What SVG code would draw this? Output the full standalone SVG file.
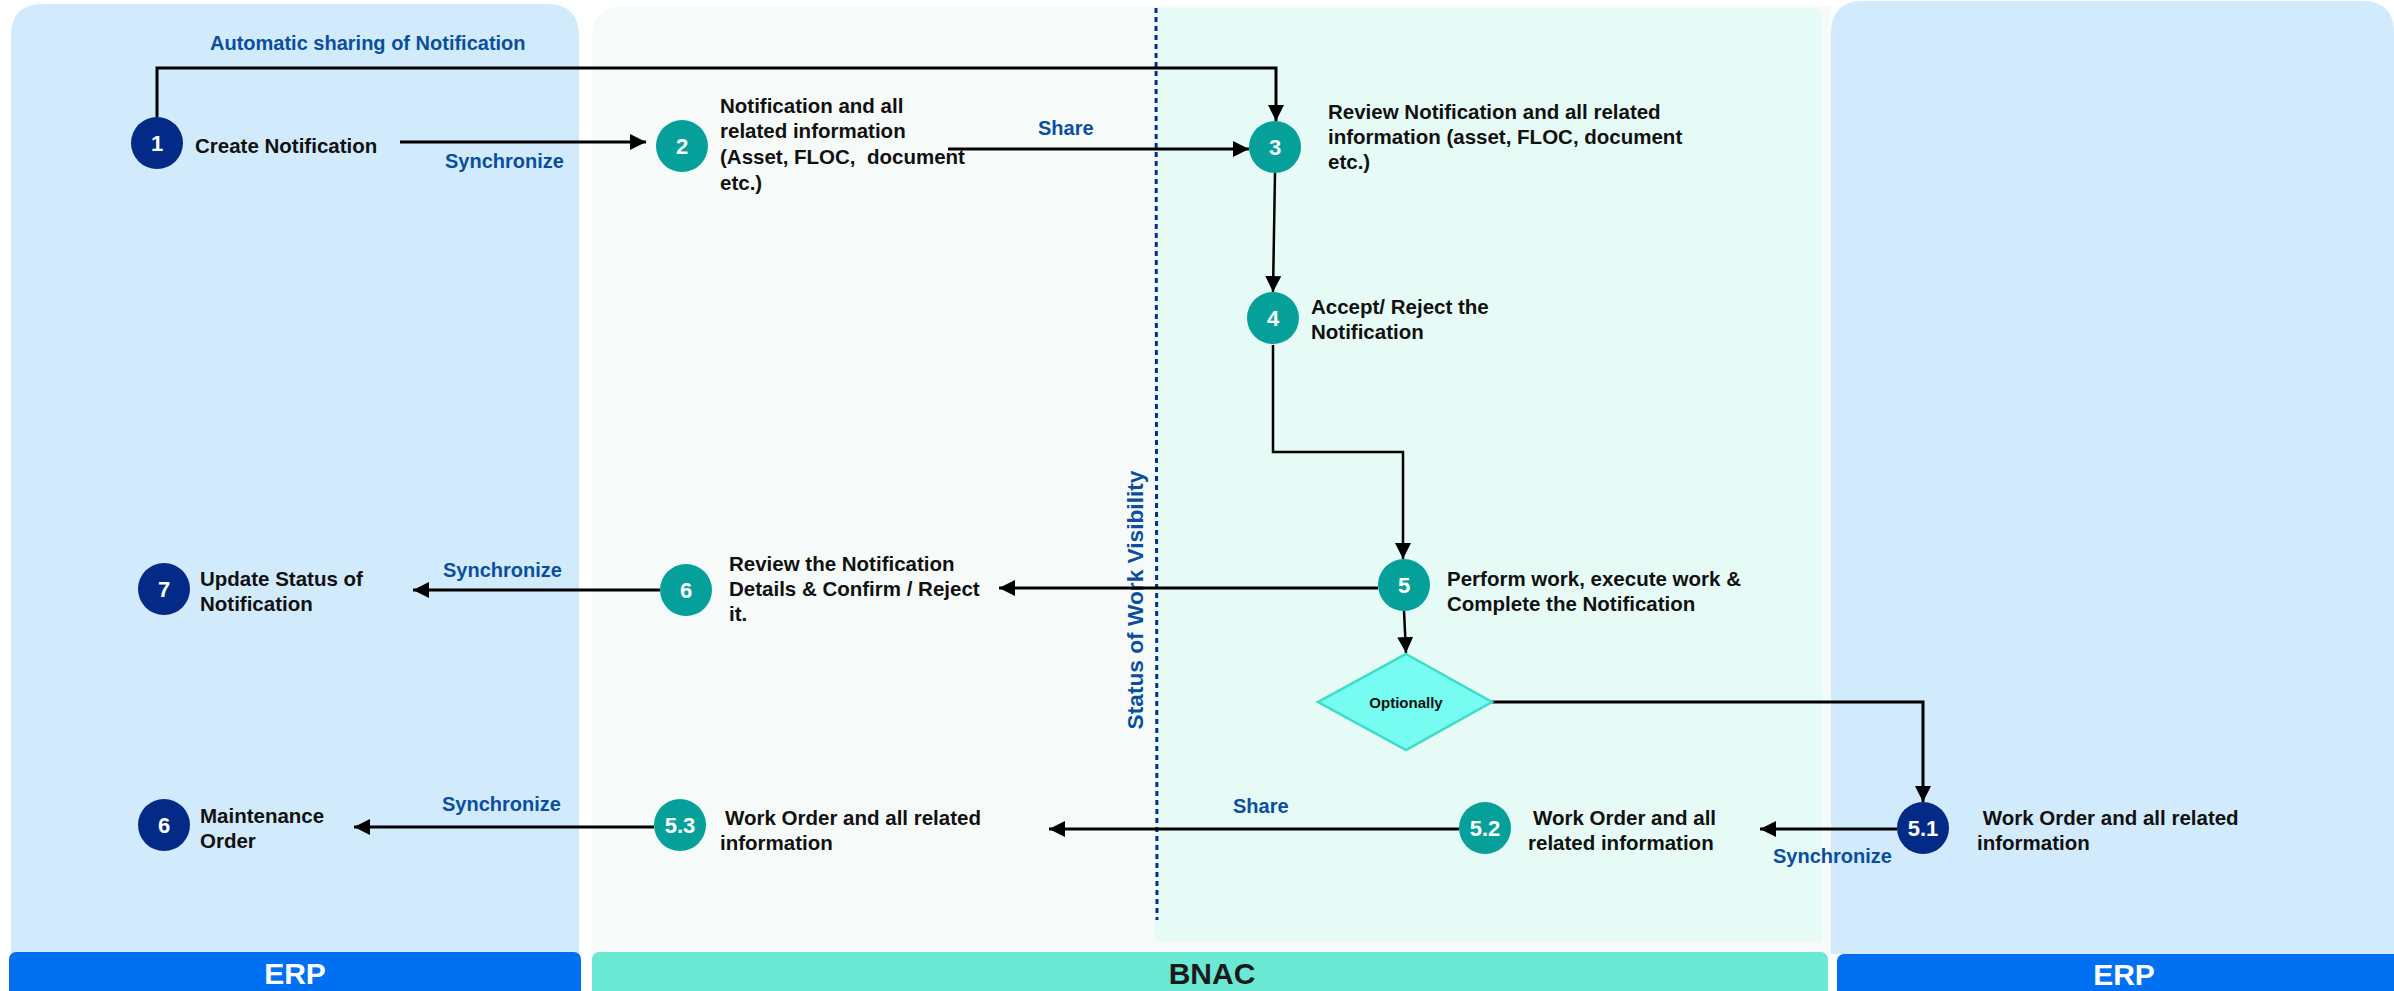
<svg xmlns="http://www.w3.org/2000/svg" width="2394" height="991" viewBox="0 0 2394 991">
<defs>
<style>
.t{font-family:"Liberation Sans",Arial,sans-serif;font-size:20.5px;font-weight:bold;fill:#111}
.lbl{font-family:"Liberation Sans",Arial,sans-serif;font-size:20px;font-weight:bold;fill:#0B4F9C}
.num{font-family:"Liberation Sans",Arial,sans-serif;font-size:22px;font-weight:bold;fill:#fff;text-anchor:middle}
.navy{fill:#022A86}
.teal{fill:#05A09A}
.ln{fill:none;stroke:#000;stroke-width:3;marker-end:url(#ah)}
.ln2{fill:none;stroke:#000;stroke-width:2.5;marker-end:url(#ah)}
.bar{font-family:"Liberation Sans",Arial,sans-serif;font-size:30px;font-weight:bold;text-anchor:middle}
</style>
<marker id="ah" markerUnits="userSpaceOnUse" markerWidth="16" markerHeight="16" refX="16" refY="8" orient="auto">
<path d="M0,0 L16,8 L0,16 z" fill="#000"/>
</marker>
</defs>
<rect width="2394" height="991" fill="#fff"/>
<g id="lanes">
<path d="M11,954 V36 Q11,4 43,4 H547 Q579,4 579,36 V954 Z" fill="#D1EBFD"/>
<path d="M592,954 V38 Q592,6 624,6 H1831 V954 Z" fill="#F6FBFA"/>
<path d="M1155,941 V8 H1810 Q1822,8 1822,20 V941 Z" fill="#E6FBF6"/>
<path d="M1831,954 V33 Q1831,1 1863,1 H2362 Q2394,1 2394,33 V954 Z" fill="#D1EBFD"/>
<line x1="1156" y1="8" x2="1157" y2="920" stroke="#0A2D8C" stroke-width="3" stroke-dasharray="5,4"/>
<text class="lbl" transform="translate(1143,600) rotate(-90)" text-anchor="middle" style="font-size:22.7px">Status of Work Visibility</text>
</g>
<g id="bars">
<rect x="9" y="952" width="572" height="45" rx="7" fill="#0070F2"/>
<text class="bar" x="295" y="984" fill="#fff">ERP</text>
<rect x="592" y="952" width="1236" height="45" rx="7" fill="#6BE8D3"/>
<text class="bar" x="1212" y="984" fill="#1a1a1a">BNAC</text>
<rect x="1837" y="954" width="565" height="45" rx="7" fill="#0070F2"/>
<text class="bar" x="2124" y="985" fill="#fff">ERP</text>
</g>
<g id="connectors">
<path class="ln" d="M157,117 V68 H1276 V121"/>
<text class="lbl" x="210" y="50">Automatic sharing of Notification</text>
<path class="ln" d="M400,142 H646"/>
<text class="lbl" x="445" y="168">Synchronize</text>
<path class="ln" d="M948,149 H1249"/>
<text class="lbl" x="1038" y="135">Share</text>
<path class="ln2" d="M1275,173 L1273,292"/>
<path class="ln2" d="M1273,345 V452 H1403 V559"/>
<path class="ln" d="M1378,588 H999"/>
<path class="ln" d="M660,590 H413"/>
<text class="lbl" x="443" y="577">Synchronize</text>
<path class="ln2" d="M1404,611 L1406,653"/>
<path class="ln" d="M1492,702 H1923 V802"/>
<path class="ln" d="M1897,829 H1760"/>
<text class="lbl" x="1773" y="863">Synchronize</text>
<path class="ln" d="M1459,829 H1049"/>
<text class="lbl" x="1233" y="813">Share</text>
<path class="ln" d="M654,827 H354"/>
<text class="lbl" x="442" y="811">Synchronize</text>
</g>
<g id="n1"><circle class="navy" cx="157" cy="143" r="26"/><text class="num" x="157" y="151">1</text><text class="t" x="195" y="153">Create Notification</text></g>
<g id="n2"><circle class="teal" cx="682" cy="146" r="26"/><text class="num" x="682" y="154">2</text>
<text class="t" x="720" y="113">Notification and all</text><text class="t" x="720" y="138">related information</text><text class="t" x="720" y="164" xml:space="preserve">(Asset, FLOC,  document</text><text class="t" x="720" y="190">etc.)</text></g>
<g id="n3"><circle class="teal" cx="1275" cy="147" r="26"/><text class="num" x="1275" y="155">3</text>
<text class="t" x="1328" y="119">Review Notification and all related</text><text class="t" x="1328" y="144">information (asset, FLOC, document</text><text class="t" x="1328" y="169">etc.)</text></g>
<g id="n4"><circle class="teal" cx="1273" cy="318" r="26"/><text class="num" x="1273" y="326">4</text>
<text class="t" x="1311" y="314">Accept/ Reject the</text><text class="t" x="1311" y="339">Notification</text></g>
<g id="n5"><circle class="teal" cx="1404" cy="585" r="26"/><text class="num" x="1404" y="593">5</text>
<text class="t" x="1447" y="586">Perform work, execute work &amp;</text><text class="t" x="1447" y="611">Complete the Notification</text></g>
<g id="n6r"><circle class="teal" cx="686" cy="590" r="26"/><text class="num" x="686" y="598">6</text>
<text class="t" x="729" y="571">Review the Notification</text><text class="t" x="729" y="596">Details &amp; Confirm / Reject</text><text class="t" x="729" y="621">it.</text></g>
<g id="n7"><circle class="navy" cx="164" cy="589" r="26"/><text class="num" x="164" y="597">7</text>
<text class="t" x="200" y="586">Update Status of</text><text class="t" x="200" y="611">Notification</text></g>
<g id="dOpt"><path d="M1406,654 L1492,702 L1406,750 L1318,702 Z" fill="#76FCF0" stroke="#3CDCC6" stroke-width="2.5"/>
<text class="t" x="1406" y="708" text-anchor="middle" style="font-size:15px">Optionally</text></g>
<g id="n51"><circle class="navy" cx="1923" cy="828" r="26"/><text class="num" x="1923" y="836">5.1</text>
<text class="t" x="1977" y="825" xml:space="preserve"> Work Order and all related</text><text class="t" x="1977" y="850">information</text></g>
<g id="n52"><circle class="teal" cx="1485" cy="828" r="26"/><text class="num" x="1485" y="836">5.2</text>
<text class="t" x="1533" y="825">Work Order and all</text><text class="t" x="1528" y="850">related information</text></g>
<g id="n53"><circle class="teal" cx="680" cy="825" r="26"/><text class="num" x="680" y="833">5.3</text>
<text class="t" x="725" y="825">Work Order and all related</text><text class="t" x="720" y="850">information</text></g>
<g id="n6"><circle class="navy" cx="164" cy="825" r="26"/><text class="num" x="164" y="833">6</text>
<text class="t" x="200" y="823">Maintenance</text><text class="t" x="200" y="848">Order</text></g>
</svg>
